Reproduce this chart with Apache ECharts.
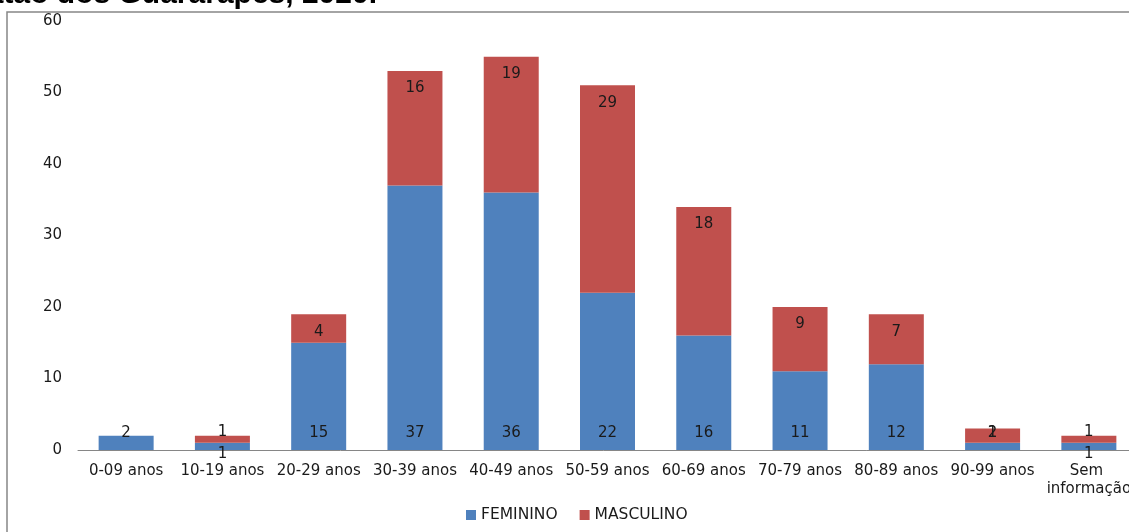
<!DOCTYPE html>
<html>
<head>
<meta charset="utf-8">
<script src="https://cdn.jsdelivr.net/npm/echarts@6/dist/echarts.min.js"></script>
<style>
  html, body { margin: 0; padding: 0; background: #fff; }
  #chart { width: 1129px; height: 532px; }
</style>
</head>
<body>
<div id="chart"></div>
<script>
// ---- data ----
var titleText = 'Jaboatão dos Guararapes, 2020.';
var categories = ['0-09 anos', '10-19 anos', '20-29 anos', '30-39 anos', '40-49 anos', '50-59 anos',
                  '60-69 anos', '70-79 anos', '80-89 anos', '90-99 anos', 'Sem informação'];
var feminino  = [2, 1, 15, 37, 36, 22, 16, 11, 12, 1, 1];
var masculino = [0, 1, 4, 16, 19, 29, 18, 9, 7, 2, 1];
var seriesNames = ['FEMININO', 'MASCULINO'];
var yTicks = { min: 0, max: 60, interval: 10 };

// ---- chart ----
var FONT = 'DejaVu Sans';
var TXT = '#1a1a1a';

function femItem(v, i) {
  var item = { value: v };
  if (v <= 1) {
    // very short bars: label drawn outside the bar
    if (i === categories.length - 2) {
      item.label = { position: 'top', distance: 2 };
    } else {
      item.label = { position: 'bottom', distance: -3 };
    }
  }
  return item;
}
function mascItem(v) {
  var item = { value: v };
  if (v > 0 && v <= 2) {
    item.label = { position: 'top', distance: v === 1 ? -4 : -12 };
  }
  return item;
}

var chart = echarts.init(document.getElementById('chart'), null, { renderer: 'canvas' });
chart.setOption({
  animation: false,
  color: ['#4F81BD', '#C0504D'],
  graphic: [
    {
      type: 'rect',
      shape: { x: 7, y: 12, width: 1300, height: 700 },
      style: { fill: 'none', stroke: '#868686', lineWidth: 1.5 },
      silent: true
    },
    {
      type: 'text',
      x: 377, y: -5,
      style: {
        text: titleText,
        font: 'bold 30px "Liberation Sans", Arial, sans-serif',
        fill: '#000',
        textAlign: 'right',
        textVerticalAlign: 'middle'
      },
      silent: true
    }
  ],
  grid: { left: 78, width: 1059, top: 21, bottom: 82, containLabel: false, outerBoundsMode: 'none' },
  legend: {
    data: seriesNames,
    left: 461,
    top: 502,
    itemWidth: 10,
    itemHeight: 10,
    itemGap: 22,
    icon: 'rect',
    textStyle: { fontFamily: FONT, fontSize: 15.5, color: TXT }
  },
  xAxis: {
    type: 'category',
    data: categories,
    axisLine: { lineStyle: { color: '#868686', width: 1 } },
    axisTick: { show: false },
    axisLabel: {
      interval: 0,
      fontFamily: FONT,
      fontSize: 15,
      color: TXT,
      margin: 12,
      width: 110,
      overflow: 'break',
      lineHeight: 18
    }
  },
  yAxis: {
    type: 'value',
    min: yTicks.min,
    max: yTicks.max,
    interval: yTicks.interval,
    splitLine: { show: false },
    axisLine: { show: false },
    axisTick: { show: false },
    axisLabel: { fontFamily: FONT, fontSize: 15, color: TXT, margin: 16 }
  },
  series: [
    {
      name: seriesNames[0],
      type: 'bar',
      stack: 'total',
      barWidth: 55,
      data: feminino.map(femItem),
      label: {
        show: true,
        position: 'insideBottom',
        distance: 9,
        fontFamily: FONT,
        fontSize: 15,
        color: TXT,
        formatter: function (p) { return p.value ? String(p.value) : ''; }
      }
    },
    {
      name: seriesNames[1],
      type: 'bar',
      stack: 'total',
      barWidth: 55,
      data: masculino.map(mascItem),
      label: {
        show: true,
        position: 'insideTop',
        distance: 10,
        fontFamily: FONT,
        fontSize: 15,
        color: TXT,
        formatter: function (p) { return p.value ? String(p.value) : ''; }
      }
    }
  ]
});
</script>
</body>
</html>
